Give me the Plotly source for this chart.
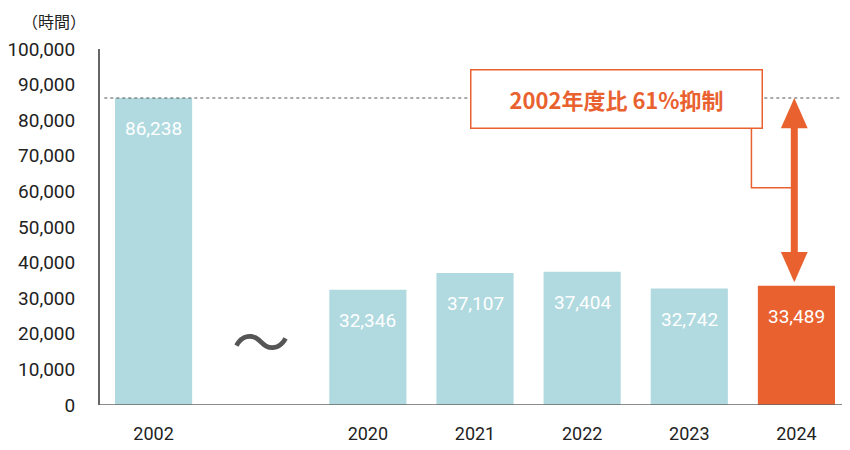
import plotly.graph_objects as go

# data
years = ["2002", " ", "2020", "2021", "2022", "2023", "2024"]
hours = [86238, None, 32346, 37107, 37404, 32742, 33489]
labels = ["86,238", "", "32,346", "37,107", "37,404", "32,742", "33,489"]
y_ticks = list(range(0, 100001, 10000))
y_ticklabels = [f"{v:,}" for v in y_ticks]

light_blue = "#B0DADF"
orange = "#E9612F"
bar_colors = [light_blue] * 6 + [orange]

num_font = "Roboto, Noto Sans CJK JP, sans-serif"
jp_font = "Noto Sans CJK JP, sans-serif"

fig = go.Figure()
fig.add_trace(go.Bar(x=list(range(len(years))), y=hours,
                     marker_color=bar_colors, marker_line_width=0,
                     width=0.72, hoverinfo="skip"))

# value labels inside bars, near the top
for i, (v, t) in enumerate(zip(hours, labels)):
    if v is None:
        continue
    fig.add_annotation(x=i, y=v, text=t, showarrow=False, yshift=-31,
                       font=dict(family=num_font, size=19, color="white"))

base = hours[0]
latest = hours[-1]
last_x = len(years) - 1
ax = last_x - 0.02

# dotted reference line at the 2002 level
fig.add_shape(type="line", xref="x", yref="y", x0=-0.46, x1=6.5, y0=base, y1=base,
              line=dict(color="#555555", width=1.2, dash="dot"))

# double arrow between 2002 level and 2024 value
head_h = 8500
head_w = 0.125
tip_low = latest + 1000
fig.add_shape(type="line", xref="x", yref="y", x0=ax, x1=ax,
              y0=tip_low + head_h - 500, y1=base - head_h + 500,
              line=dict(color=orange, width=7))
fig.add_shape(type="path", xref="x", yref="y",
              path=f"M {ax-head_w},{base-head_h} L {ax},{base} L {ax+head_w},{base-head_h} Z",
              fillcolor=orange, line=dict(width=0))
fig.add_shape(type="path", xref="x", yref="y",
              path=f"M {ax-head_w},{tip_low+head_h} L {ax},{tip_low} L {ax+head_w},{tip_low+head_h} Z",
              fillcolor=orange, line=dict(width=0))

# connector from callout box to arrow
fig.add_shape(type="path", xref="x", yref="y",
              path=f"M 5.58,77500 V 61000 H {ax}",
              line=dict(color=orange, width=1.5))

# callout
fig.add_annotation(x=4.32, y=86000, text="<b>2002年度比 61%抑制</b>", showarrow=False,
                   font=dict(family=jp_font, size=22, color=orange),
                   bgcolor="white", bordercolor=orange, borderwidth=1.5,
                   borderpad=13, width=264, height=31)

# break mark between 2002 and 2020
fig.add_annotation(x=1, y=18500, text="〜", showarrow=False,
                   font=dict(family=jp_font, size=58, color="#555555"))

# unit label
fig.add_annotation(xref="paper", yref="paper", x=-0.017, y=1.08, xanchor="right",
                   yanchor="middle", text="（時間）", showarrow=False, borderpad=0,
                   font=dict(family=jp_font, size=16, color="#222222"))

# page body adds 8px margin, so the figure is 8px smaller and shifted
fig.update_layout(
    width=842, height=442,
    margin=dict(l=92, r=0, t=41, b=45),
    plot_bgcolor="white", paper_bgcolor="white",
    showlegend=False,
    xaxis=dict(range=[-0.5, 6.5], tickmode="array",
               tickvals=list(range(len(years))), ticktext=years,
               showgrid=False, zeroline=False, showline=False,
               ticks="", ticklen=0, ticklabelstandoff=16, automargin=False,
               tickfont=dict(family=num_font, size=18, color="#222222")),
    yaxis=dict(range=[0, 100000], tickmode="array", tickvals=y_ticks,
               ticktext=y_ticklabels, showgrid=False, zeroline=False,
               showline=True, linecolor="#666666", linewidth=2,
               ticks="", ticklabelstandoff=19, automargin=False,
               tickfont=dict(family=num_font, size=19, color="#222222")),
)
# baseline
fig.add_shape(type="line", xref="paper", yref="y", x0=0, x1=1, y0=0, y1=0,
              line=dict(color="#666666", width=1.5))

fig.write_html("out.html")
